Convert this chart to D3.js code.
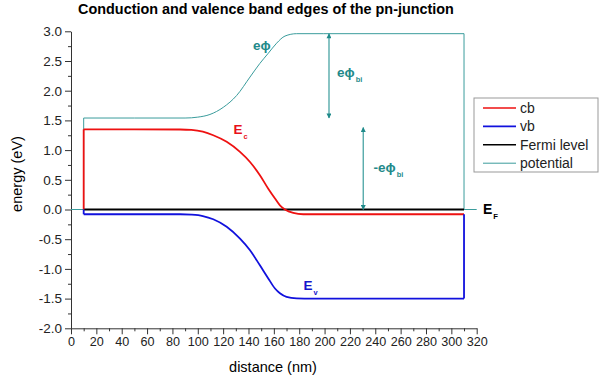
<!DOCTYPE html>
<html>
  <head>
    <meta charset="utf-8">
    <title>pn-junction band edges</title>
    <script src="https://d3js.org/d3.v7.min.js"></script>
    <style>
      body { margin: 0; background: white; }
      svg { background-color: white; }
      text { font-family: Arial, "Liberation Sans", sans-serif; }
      .axis path, .axis line { stroke: #333; stroke-width: 1px; }
      .axis text { font-size: 13.5px; fill: #222; }
      .axis.xa text { font-size: 12.6px; }
      .lbl { font-weight: bold; font-size: 13px; }
    </style>
  </head>
  <body>
    <svg></svg>
    <script>
      // data (distance in nm, energy in eV)
      var cbX = [10, 50, 86, 95, 104, 112.2, 122.8, 133.3, 141.2, 149, 155.6, 160.9, 164.8, 168.8, 175.3, 183.2, 200, 310];
      var cbE = [1.35, 1.35, 1.347, 1.34, 1.31, 1.25, 1.14, 0.97, 0.80, 0.577, 0.35, 0.185, 0.07, 0.0, -0.057, -0.08, -0.08, -0.08];

      var vbX = [10, 50, 86, 95, 104, 112.2, 122.8, 133.3, 141.2, 149, 155.6, 160.9, 164.8, 170, 178, 190, 310];
      var vbE = [-0.08, -0.08, -0.08, -0.087, -0.11, -0.164, -0.29, -0.49, -0.685, -0.94, -1.16, -1.33, -1.41, -1.47, -1.495, -1.5, -1.5];

      var potX = [10, 50, 90, 100, 109.6, 120.1, 130.7, 141.2, 149, 155.6, 162.2, 168.8, 178, 199, 310];
      var potE = [1.54, 1.54, 1.54, 1.555, 1.60, 1.72, 1.92, 2.23, 2.46, 2.63, 2.80, 2.92, 2.96, 2.96, 2.96];

      var fermiX = [10, 310];
      var fermiE = [0, 0];

      var xTicks = d3.range(0, 321, 20);
      var yTicks = [-2.0, -1.5, -1.0, -0.5, 0.0, 0.5, 1.0, 1.5, 2.0, 2.5, 3.0];

      var legendNames = ["cb", "vb", "Fermi level", "potential"];
      var legendColors = ["#ee1111", "#1111dd", "#000000", "#3a9c9c"];
      var legendWidths = [1.6, 1.6, 1.6, 1];

      //begin: layout config.
      var svgWidth = 607, svgHeight = 384,
          x0 = 71, x1 = 476.7, yTop = 31.3, yBottom = 328.3;
      //end: layout config.

      var svg = d3.select("svg").attr("width", svgWidth).attr("height", svgHeight);

      var x = d3.scaleLinear().domain([0, 320]).range([x0, x1]);
      var y = d3.scaleLinear().domain([-2, 3]).range([yBottom, yTop]);

      var teal = "#3a9c9c", tealText = "#1f8a8a";
      var fmt = function(d){ return d3.format(".1f")(d).replace("\u2212", "-"); };

      // axes
      svg.append("g").attr("class", "axis xa")
        .attr("transform", "translate(0," + yBottom + ")")
        .call(d3.axisBottom(x).tickValues(xTicks).tickSize(6).tickSizeOuter(0).tickPadding(3).tickFormat(d3.format("d")));
      svg.append("g").attr("class", "axis")
        .attr("transform", "translate(0," + yBottom + ")")
        .call(d3.axisBottom(x).tickValues(d3.range(10, 320, 20)).tickSize(3).tickSizeOuter(0).tickFormat(""))
        .select(".domain").remove();

      svg.append("g").attr("class", "axis")
        .attr("transform", "translate(" + x0 + ",0)")
        .call(d3.axisLeft(y).tickValues(yTicks).tickSize(6).tickSizeOuter(0).tickPadding(3).tickFormat(fmt));
      svg.append("g").attr("class", "axis")
        .attr("transform", "translate(" + x0 + ",0)")
        .call(d3.axisLeft(y).tickValues(d3.range(-1.75, 3, 0.5)).tickSize(3).tickSizeOuter(0).tickFormat(""))
        .select(".domain").remove();

      // axis titles
      svg.append("text")
        .attr("transform", "translate(22," + 174 + ") rotate(-90)")
        .attr("text-anchor", "middle")
        .style("font-size", "14.5px")
        .text("energy (eV)");
      svg.append("text")
        .attr("x", 273).attr("y", 372)
        .attr("text-anchor", "middle")
        .style("font-size", "14.5px")
        .text("distance (nm)");

      svg.append("text")
        .attr("x", 266).attr("y", 13.5)
        .attr("text-anchor", "middle")
        .style("font-size", "14.4px").style("font-weight", "bold")
        .text("Conduction and valence band edges of the pn-junction");

      // curves
      function pts(xs, es) { return xs.map(function(d, i) { return [d, es[i]]; }); }
      var smooth = d3.line().x(function(d){ return x(d[0]); }).y(function(d){ return y(d[1]); }).curve(d3.curveMonotoneX);
      var straight = d3.line().x(function(d){ return x(d[0]); }).y(function(d){ return y(d[1]); });

      function drawSeries(xs, es, color, w, before, after) {
        var g = svg.append("g").attr("fill", "none").attr("stroke", color).attr("stroke-width", w);
        var p = pts(xs, es);
        if (before) g.append("path").attr("d", straight(before.concat([p[0]])));
        g.append("path").attr("d", smooth(p));
        if (after) g.append("path").attr("d", straight([p[p.length - 1]].concat(after)));
      }

      drawSeries(potX, potE, teal, 1,
        [[0, 0], [10, 0]],
        [[310, 0], [320, 0]]);
      drawSeries(fermiX, fermiE, "#000", 1.8);
      drawSeries(cbX, cbE, legendColors[0], 1.8, [[10, 0]]);
      drawSeries(vbX, vbE, legendColors[1], 1.8, [[10, 0]], [[310, -0.08]]);

      // arrows
      var defs = svg.append("defs");
      defs.append("marker").attr("id", "ah")
        .attr("viewBox", "0 0 10 10").attr("refX", 9).attr("refY", 5)
        .attr("markerWidth", 7).attr("markerHeight", 5)
        .attr("markerUnits", "userSpaceOnUse")
        .attr("orient", "auto-start-reverse")
        .append("path").attr("d", "M0,0L10,5L0,10Z").attr("fill", "#1f8a8a");

      function arrow(nm, eA, eB) {
        svg.append("line")
          .attr("x1", x(nm)).attr("x2", x(nm))
          .attr("y1", y(eA)).attr("y2", y(eB))
          .attr("stroke", teal).attr("stroke-width", 1.2)
          .attr("marker-start", "url(#ah)").attr("marker-end", "url(#ah)");
      }
      arrow(203.5, 2.96, 1.54);
      arrow(230.5, 1.38, 0);

      // labels
      function label(px, py, main, sub, color, size) {
        var t = svg.append("text").attr("class", "lbl")
          .attr("x", px).attr("y", py).attr("fill", color)
          .style("font-size", size + "px");
        t.append("tspan").text(main);
        if (sub) t.append("tspan").attr("dx", 1).attr("dy", 5).style("font-size", (size * 0.55) + "px").text(sub);
      }
      label(253, 49.5, "eϕ", null, tealText, 13.5);
      label(337, 77, "eϕ", "bi", tealText, 13.5);
      label(373.5, 172, "-eϕ", "bi", tealText, 13.5);
      label(233.5, 134, "E", "c", "#e8101a", 13.5);
      label(303.5, 290, "E", "v", "#1515cc", 13.5);
      label(483, 214, "E", "F", "#000", 14);

      // legend
      var legend = svg.append("g").attr("transform", "translate(474,98)");
      legend.append("rect").attr("width", 124).attr("height", 74)
        .attr("fill", "white").attr("stroke", "#999").attr("stroke-width", 1);
      var items = legend.selectAll("g.item").data(legendNames).enter().append("g")
        .attr("class", "item")
        .attr("transform", function(d, i){ return "translate(0," + (10 + i * 18.4) + ")"; });
      items.append("line").attr("x1", 9).attr("x2", 42).attr("y1", 0).attr("y2", 0)
        .attr("stroke", function(d, i){ return legendColors[i]; })
        .attr("stroke-width", function(d, i){ return legendWidths[i]; });
      items.append("text").attr("x", 46).attr("y", 5)
        .style("font-size", "14px").attr("fill", "#222")
        .text(function(d){ return d; });
    </script>
  </body>
</html>
